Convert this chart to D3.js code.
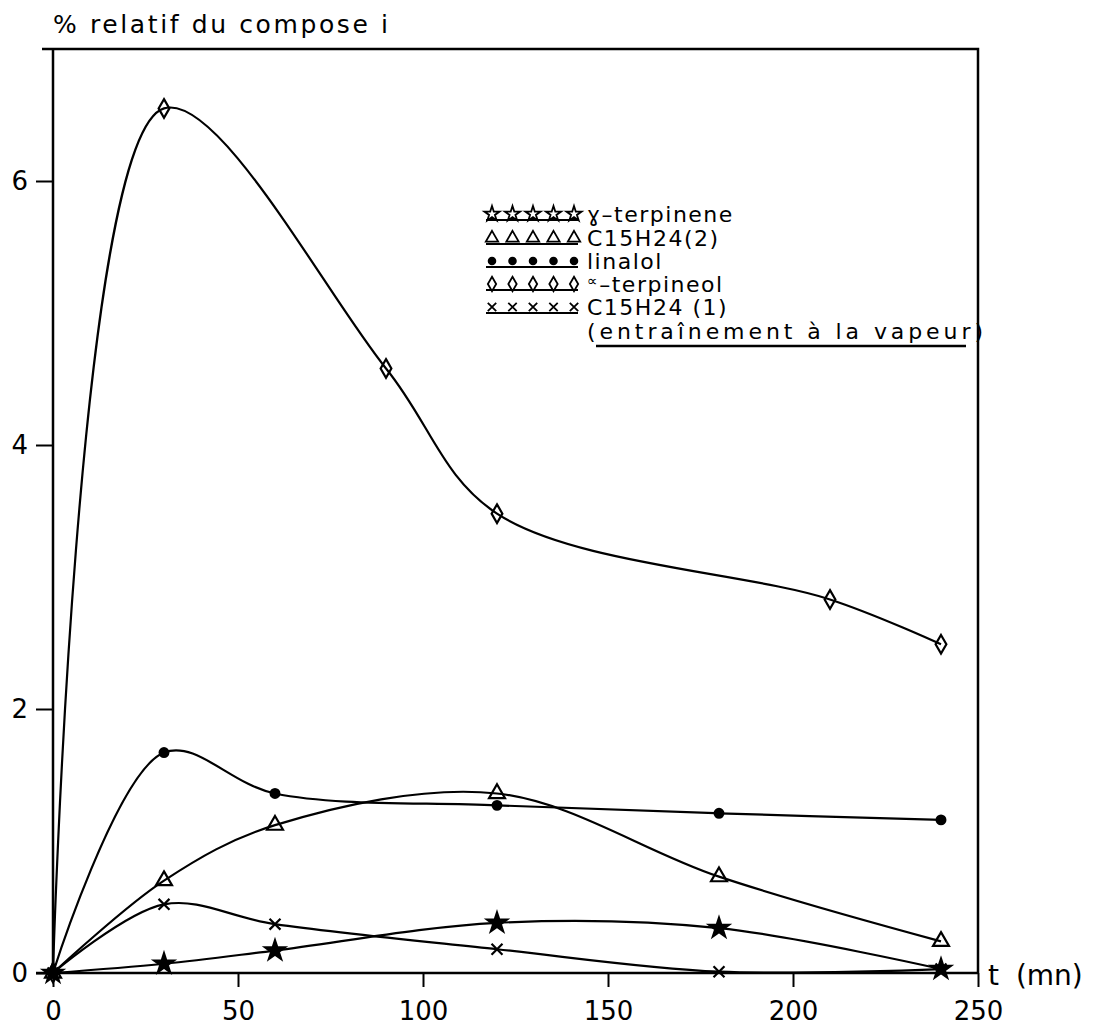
<!DOCTYPE html>
<html>
<head>
<meta charset="utf-8">
<script src="https://cdn.jsdelivr.net/npm/d3@7"></script>
<style>
  body { margin: 0; background: #fff; }
  text { font-family: "DejaVu Sans", sans-serif; fill: #000; }
</style>
</head>
<body>
<svg id="chart" width="1099" height="1030"></svg>
<script>
// sampling times (mn) and % relatif of each compound
var times = [0, 30, 60, 120, 180, 240];
var terpineolTimes = [0, 30, 90, 120, 210, 240];
var gammaTerpinene = [0, 0.07, 0.17, 0.38, 0.34, 0.03];
var c15h24two = [0, 0.70, 1.12, 1.36, 0.73, 0.24];
var linalol = [0, 1.67, 1.36, 1.27, 1.21, 1.16];
var alphaTerpineol = [0, 6.55, 4.58, 3.48, 2.83, 2.49];
var c15h24one = [0, 0.52, 0.37, 0.18, 0.01, 0.03];

var xMajor = [0, 50, 100, 150, 200, 250];
var yMajor = [0, 2, 4, 6];
var legendNames = ["\u0263\u2013terpinene", "C15H24(2)", "linalol", "\u2013terpineol", "C15H24 (1)"];

var svg = d3.select("#chart");

var x = d3.scaleLinear().domain([0, 250]).range([53, 978]);
var y = d3.scaleLinear().domain([0, 7]).range([973, 49]);

// frame (top + right)
svg.append("path")
    .attr("d", "M42," + y(7) + "H" + x(250) + "V" + y(0))
    .attr("fill", "none").attr("stroke", "#000").attr("stroke-width", 2.5);

// y axis
var yMinor = d3.range(0, 7, 0.2).map(function (d) { return +d.toFixed(1); });
var gy = svg.append("g").attr("transform", "translate(" + x(0) + ",0)");
gy.call(d3.axisLeft(y).tickValues(yMinor).tickSize(11).tickFormat(""));
gy.call(d3.axisLeft(y).tickValues(yMajor).tickSize(17).tickPadding(8).tickFormat(d3.format("d")));
gy.select(".domain").remove();
gy.append("line").attr("y1", y(0)).attr("y2", y(7)).attr("stroke", "#000").attr("stroke-width", 2.5);

// x axis
var xMinor = d3.range(0, 251, 5);
var gx = svg.append("g").attr("transform", "translate(0," + y(0) + ")");
gx.call(d3.axisBottom(x).tickValues(xMinor).tickSize(9).tickFormat(""));
gx.call(d3.axisBottom(x).tickValues(xMajor).tickSize(14).tickPadding(15).tickFormat(d3.format("d")));
gx.select(".domain").remove();
gx.append("line").attr("x1", 36).attr("x2", x(250)).attr("stroke", "#000").attr("stroke-width", 2.5);

svg.selectAll(".tick line").attr("stroke", "#000").attr("stroke-width", 2);
svg.selectAll(".tick text").style("font-size", "26px").style("font-family", "'DejaVu Sans', sans-serif");

// titles
svg.append("text").attr("x", 53).attr("y", 33)
    .attr("textLength", 335).attr("lengthAdjust", "spacing")
    .style("font-size", "25px").text("% relatif du compose i");
svg.append("text").attr("x", 988).attr("y", 985)
    .style("font-size", "28px").style("word-spacing", "8px").text("t (mn)");

// marker shapes
var timesSym = d3.symbolTimes || d3.symbolX || d3.symbolCross;
var series = [
    {name: "gamma", ts: times, vals: gammaTerpinene, sym: d3.symbolStar, size: 120, fill: "#000"},
    {name: "c2", ts: times, vals: c15h24two, sym: d3.symbolTriangle, size: 110, fill: "none"},
    {name: "lin", ts: times, vals: linalol, sym: d3.symbolCircle, size: 60, fill: "#000"},
    {name: "alpha", ts: terpineolTimes, vals: alphaTerpineol, sym: d3.symbolDiamond, size: 100, fill: "none"},
    {name: "c1", ts: times, vals: c15h24one, sym: timesSym, size: 80, fill: "none"}
];

var line = d3.line()
    .x(function (d) { return x(d[0]); })
    .y(function (d) { return y(d[1]); })
    .curve(d3.curveCatmullRom.alpha(0.5));

series.forEach(function (s) {
    var pts = s.ts.map(function (t, i) { return [t, s.vals[i]]; });
    svg.append("path").attr("d", line(pts))
        .attr("fill", "none").attr("stroke", "#000").attr("stroke-width", 2.2);
    svg.selectAll(".m-" + s.name).data(pts).enter().append("path")
        .attr("class", "m-" + s.name)
        .attr("transform", function (d) { return "translate(" + x(d[0]) + "," + y(d[1]) + ")" + (s.sym === d3.symbolCross ? " rotate(45)" : ""); })
        .attr("d", d3.symbol().type(s.sym).size(s.size))
        .attr("fill", s.fill).attr("stroke", "#000").attr("stroke-width", 2.2);
});

// legend
var legendY = [213, 237, 260, 283, 306];
var lg = svg.append("g");
series.forEach(function (s, i) {
    var ly = legendY[i];
    lg.append("line").attr("x1", 486).attr("x2", 578).attr("y1", ly + 7).attr("y2", ly + 7)
        .attr("stroke", "#000").attr("stroke-width", 2.2);
    d3.range(5).forEach(function (k) {
        lg.append("path")
            .attr("transform", "translate(" + (492 + k * 20.5) + "," + (ly + 1) + ")" + (s.sym === d3.symbolCross ? " rotate(45)" : ""))
            .attr("d", d3.symbol().type(s.sym).size(s.size * 0.6))
            .attr("fill", s.sym === d3.symbolStar ? "#fff" : s.fill).attr("stroke", "#000").attr("stroke-width", 1.8);
    });
    var t = lg.append("text").attr("x", 587).attr("y", ly + 9)
        .style("font-size", "22px").style("letter-spacing", "1.5px");
    if (s.name === "alpha") {
        t.append("tspan").style("font-size", "15px").attr("dy", -6).text("\u221d");
        t.append("tspan").attr("dy", 6).text(legendNames[i]);
    } else {
        t.text(legendNames[i]);
    }
});
lg.append("text").attr("x", 587).attr("y", 339)
    .attr("textLength", 396).attr("lengthAdjust", "spacing")
    .style("font-size", "22px").text("(entra\u00eenement \u00e0 la vapeur)");
lg.append("line").attr("x1", 596).attr("x2", 966).attr("y1", 346).attr("y2", 346)
    .attr("stroke", "#000").attr("stroke-width", 2.5);
</script>
</body>
</html>
